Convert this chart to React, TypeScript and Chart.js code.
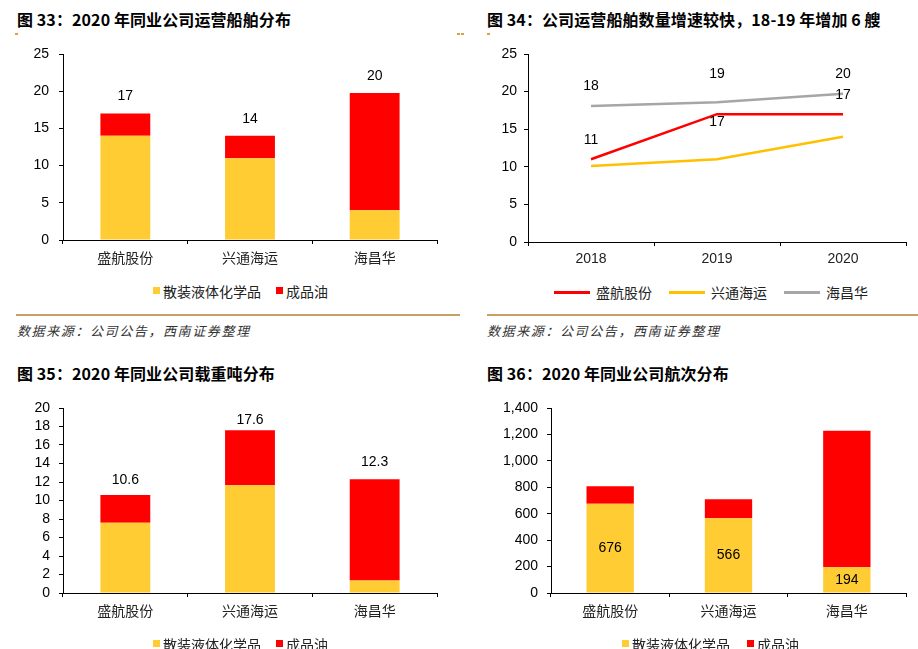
import React, { useEffect, useRef } from 'react';
import { Chart, registerables } from 'chart.js';

Chart.register(...registerables);

const CJK = '"Noto Sans CJK SC", sans-serif';
const LAT = '"Liberation Sans", Arial, sans-serif';

// ---------- data ----------
const companies = ['盛航股份', '兴通海运', '海昌华'];
const seriesNames = ['散装液体化学品', '成品油'];

// 图33 运营船舶 (艘)
const fleetChem = [14, 11, 4];
const fleetOil = [3, 3, 15.75];
const fleetTotalLabels = ['17', '14', '20'];

// 图34 运营船舶数量
const years = ['2018', '2019', '2020'];
const lineNames = ['盛航股份', '兴通海运', '海昌华'];
const shengHang = [11, 17, 17];
const xingTong = [10.1, 11, 14];
const haiChangHua = [18.1, 18.6, 19.7];
const shengHangLabels = ['11', '17', '17'];
const haiChangHuaLabels = ['18', '19', '20'];

// 图35 载重吨 (万吨)
const dwtChem = [7.6, 11.65, 1.35];
const dwtOil = [3.0, 5.95, 10.95];
const dwtTotalLabels = ['10.6', '17.6', '12.3'];

// 图36 航次
const voyChem = [676, 566, 194];
const voyOil = [131, 143, 1033];
const voyChemLabels = ['676', '566', '194'];

const YELLOW = '#FFCC33';
const RED = '#FF0000';
const LINE_YELLOW = '#FFC000';
const GRAY = '#A6A6A6';
const TAN = '#C9A063';

type Spec = { ds: number; texts: string[]; mode: 'point' | 'center'; dy: number[] };

const labelPlugin = {
  id: 'valueLabels',
  afterDatasetsDraw(chart: any, _args: any, opts: any) {
    const specs: Spec[] = (opts && opts.specs) || [];
    const ctx = chart.ctx;
    ctx.save();
    ctx.font = `14px ${LAT}`;
    ctx.fillStyle = '#000';
    ctx.textAlign = 'center';
    ctx.textBaseline = 'middle';
    specs.forEach((s) => {
      const meta = chart.getDatasetMeta(s.ds);
      meta.data.forEach((el: any, i: number) => {
        const t = s.texts[i];
        if (!t) return;
        let y: number;
        if (s.mode === 'center') {
          const p = el.getProps(['y', 'base'], true);
          y = (p.y + p.base) / 2;
        } else {
          y = el.y;
        }
        ctx.fillText(t, el.x, y + (s.dy[i] || 0));
      });
    });
    ctx.restore();
  },
};

function axes(opts: {
  max: number;
  step: number;
  yWidth: number;
  xHeight: number;
  yPad: number;
  stacked: boolean;
  xFont: string;
  fmt?: (v: number) => string;
}) {
  return {
    x: {
      stacked: opts.stacked,
      offset: true,
      ticks: { font: { family: opts.xFont, size: 14 }, color: '#222', padding: 5 },
      grid: { drawOnChartArea: false, drawTicks: true, tickLength: 4, color: '#000', offset: true },
      border: { display: true, color: '#000', width: 1 },
      afterFit: (s: any) => {
        s.height = opts.xHeight;
      },
    },
    y: {
      stacked: opts.stacked,
      min: 0,
      max: opts.max,
      ticks: {
        stepSize: opts.step,
        autoSkip: false,
        padding: opts.yPad,
        font: { family: LAT, size: 14 },
        color: '#000',
        callback: (v: any) => (opts.fmt ? opts.fmt(Number(v)) : String(v)),
      },
      grid: { drawOnChartArea: false, drawTicks: true, tickLength: 4, color: '#000' },
      border: { display: true, color: '#000', width: 1 },
      afterFit: (s: any) => {
        s.width = opts.yWidth;
        s.paddingTop = 0;
        s.paddingBottom = 0;
      },
    },
  };
}

function ChartCanvas({ config, left, top, width, height }: any) {
  const ref = useRef<HTMLCanvasElement>(null);
  useEffect(() => {
    const c = new Chart(ref.current as HTMLCanvasElement, config());
    return () => c.destroy();
  }, []);
  return (
    <div style={{ position: 'absolute', left, top, width, height }}>
      <canvas ref={ref} width={width} height={height} style={{ width, height, display: 'block' }} />
    </div>
  );
}

function barConfig(p: {
  chem: number[];
  oil: number[];
  max: number;
  step: number;
  yWidth: number;
  xHeight: number;
  yPad: number;
  padTop: number;
  padRight: number;
  specs: Spec[];
  fmt?: (v: number) => string;
}) {
  return () => ({
    type: 'bar',
    data: {
      labels: companies,
      datasets: [
        { label: seriesNames[0], data: p.chem, backgroundColor: YELLOW, barPercentage: 0.4, categoryPercentage: 1 },
        { label: seriesNames[1], data: p.oil, backgroundColor: RED, barPercentage: 0.4, categoryPercentage: 1 },
      ],
    },
    options: {
      responsive: false,
      animation: false,
      layout: { padding: { top: p.padTop, right: p.padRight, left: 0, bottom: 0 } },
      plugins: { legend: { display: false }, tooltip: { enabled: false }, valueLabels: { specs: p.specs } },
      scales: axes({
        max: p.max,
        step: p.step,
        yWidth: p.yWidth,
        xHeight: p.xHeight,
        yPad: p.yPad,
        stacked: true,
        xFont: CJK,
        fmt: p.fmt,
      }),
    },
    plugins: [labelPlugin],
  });
}

const lineConfig = () => ({
  type: 'line',
  data: {
    labels: years,
    datasets: [
      { label: lineNames[0], data: shengHang, borderColor: RED, backgroundColor: RED, borderWidth: 2.5, pointRadius: 0, tension: 0 },
      { label: lineNames[1], data: xingTong, borderColor: LINE_YELLOW, backgroundColor: LINE_YELLOW, borderWidth: 2.5, pointRadius: 0, tension: 0 },
      { label: lineNames[2], data: haiChangHua, borderColor: GRAY, backgroundColor: GRAY, borderWidth: 2.5, pointRadius: 0, tension: 0 },
    ],
  },
  options: {
    responsive: false,
    animation: false,
    layout: { padding: { top: 10, right: 12, left: 0, bottom: 0 } },
    plugins: {
      legend: { display: false },
      tooltip: { enabled: false },
      valueLabels: {
        specs: [
          { ds: 2, texts: haiChangHuaLabels, mode: 'point', dy: [-20, -28, -20] },
          { ds: 0, texts: shengHangLabels, mode: 'point', dy: [-19, 8, -19] },
        ],
      },
    },
    scales: axes({ max: 25, step: 5, yWidth: 68, xHeight: 28, yPad: 7, stacked: false, xFont: LAT }),
  },
  plugins: [labelPlugin],
});

const titleStyle = (left: number, top: number): React.CSSProperties => ({
  position: 'absolute',
  left,
  top,
  fontFamily: CJK,
  fontWeight: 700,
  fontSize: 16,
  lineHeight: '20px',
  letterSpacing: 0.1,
  color: '#000',
  whiteSpace: 'nowrap',
});

const sourceStyle = (left: number, top: number): React.CSSProperties => ({
  position: 'absolute',
  left,
  top,
  fontFamily: CJK,
  fontStyle: 'italic',
  fontSize: 13,
  lineHeight: '18px',
  letterSpacing: 1.6,
  color: '#333',
  whiteSpace: 'nowrap',
});

const legendText: React.CSSProperties = {
  position: 'absolute',
  fontFamily: CJK,
  fontSize: 14,
  lineHeight: '18px',
  color: '#222',
  whiteSpace: 'nowrap',
};

function SquareLegend({ y, xs }: { y: number; xs: number[] }) {
  const colors = [YELLOW, RED];
  return (
    <>
      {seriesNames.map((n, i) => (
        <React.Fragment key={n}>
          <div style={{ position: 'absolute', left: xs[i], top: y - 4, width: 7, height: 7, background: colors[i] }} />
          <div style={{ ...legendText, left: xs[i] + 10, top: y - 9 }}>{n}</div>
        </React.Fragment>
      ))}
    </>
  );
}

function LineLegend({ y }: { y: number }) {
  const colors = [RED, LINE_YELLOW, GRAY];
  const xs = [554, 669, 784];
  return (
    <>
      {lineNames.map((n, i) => (
        <React.Fragment key={n}>
          <div style={{ position: 'absolute', left: xs[i], top: y - 1, width: 36, height: 3, background: colors[i] }} />
          <div style={{ ...legendText, left: xs[i] + 42, top: y - 9 }}>{n}</div>
        </React.Fragment>
      ))}
    </>
  );
}

const dash = (left: number, top: number): React.CSSProperties => ({
  position: 'absolute',
  left,
  top,
  width: 3,
  height: 2,
  background: '#D9A24A',
});

export default function App() {
  const fmtThousands = (v: number) => v.toLocaleString('en-US');
  return (
    <div style={{ position: 'absolute', left: 0, top: 0, width: 918, height: 649, background: '#fff', overflow: 'hidden' }}>
      <div style={titleStyle(17, 9)}>图 33：2020 年同业公司运营船舶分布</div>
      <div style={titleStyle(487, 9)}>图 34：公司运营船舶数量增速较快，18-19 年增加 6 艘</div>
      <div style={dash(15, 33)} />
      <div style={dash(457, 33)} />
      <div style={dash(461, 33)} />
      <div style={dash(487, 33)} />

      <ChartCanvas
        left={0}
        top={44}
        width={460}
        height={226}
        config={barConfig({
          chem: fleetChem,
          oil: fleetOil,
          max: 25,
          step: 5,
          yWidth: 63,
          xHeight: 30,
          yPad: 10,
          padTop: 10,
          padRight: 23,
          specs: [{ ds: 1, texts: fleetTotalLabels, mode: 'point', dy: [-17, -17, -17] }],
        })}
      />
      <ChartCanvas left={460} top={44} width={458} height={226} config={lineConfig} />

      <SquareLegend y={291} xs={[153, 276]} />
      <LineLegend y={292} />

      <div style={{ position: 'absolute', left: 16, top: 314, width: 444, height: 2, background: TAN }} />
      <div style={{ position: 'absolute', left: 487, top: 314, width: 431, height: 2, background: TAN }} />
      <div style={sourceStyle(17, 322)}>数据来源：公司公告，西南证券整理</div>
      <div style={sourceStyle(487, 322)}>数据来源：公司公告，西南证券整理</div>

      <div style={titleStyle(17, 363)}>图 35：2020 年同业公司载重吨分布</div>
      <div style={titleStyle(487, 363)}>图 36：2020 年同业公司航次分布</div>

      <ChartCanvas
        left={0}
        top={396}
        width={460}
        height={253}
        config={barConfig({
          chem: dwtChem,
          oil: dwtOil,
          max: 20,
          step: 2,
          yWidth: 63,
          xHeight: 56,
          yPad: 9,
          padTop: 12,
          padRight: 23,
          specs: [{ ds: 1, texts: dwtTotalLabels, mode: 'point', dy: [-15, -10, -17] }],
        })}
      />
      <ChartCanvas
        left={460}
        top={396}
        width={458}
        height={253}
        config={barConfig({
          chem: voyChem,
          oil: voyOil,
          max: 1400,
          step: 200,
          yWidth: 91,
          xHeight: 56,
          yPad: 9,
          padTop: 12,
          padRight: 12,
          specs: [{ ds: 0, texts: voyChemLabels, mode: 'center', dy: [0, 0, 0] }],
          fmt: fmtThousands,
        })}
      />

      <SquareLegend y={644} xs={[153, 276]} />
      <SquareLegend y={644} xs={[622, 747]} />
    </div>
  );
}
